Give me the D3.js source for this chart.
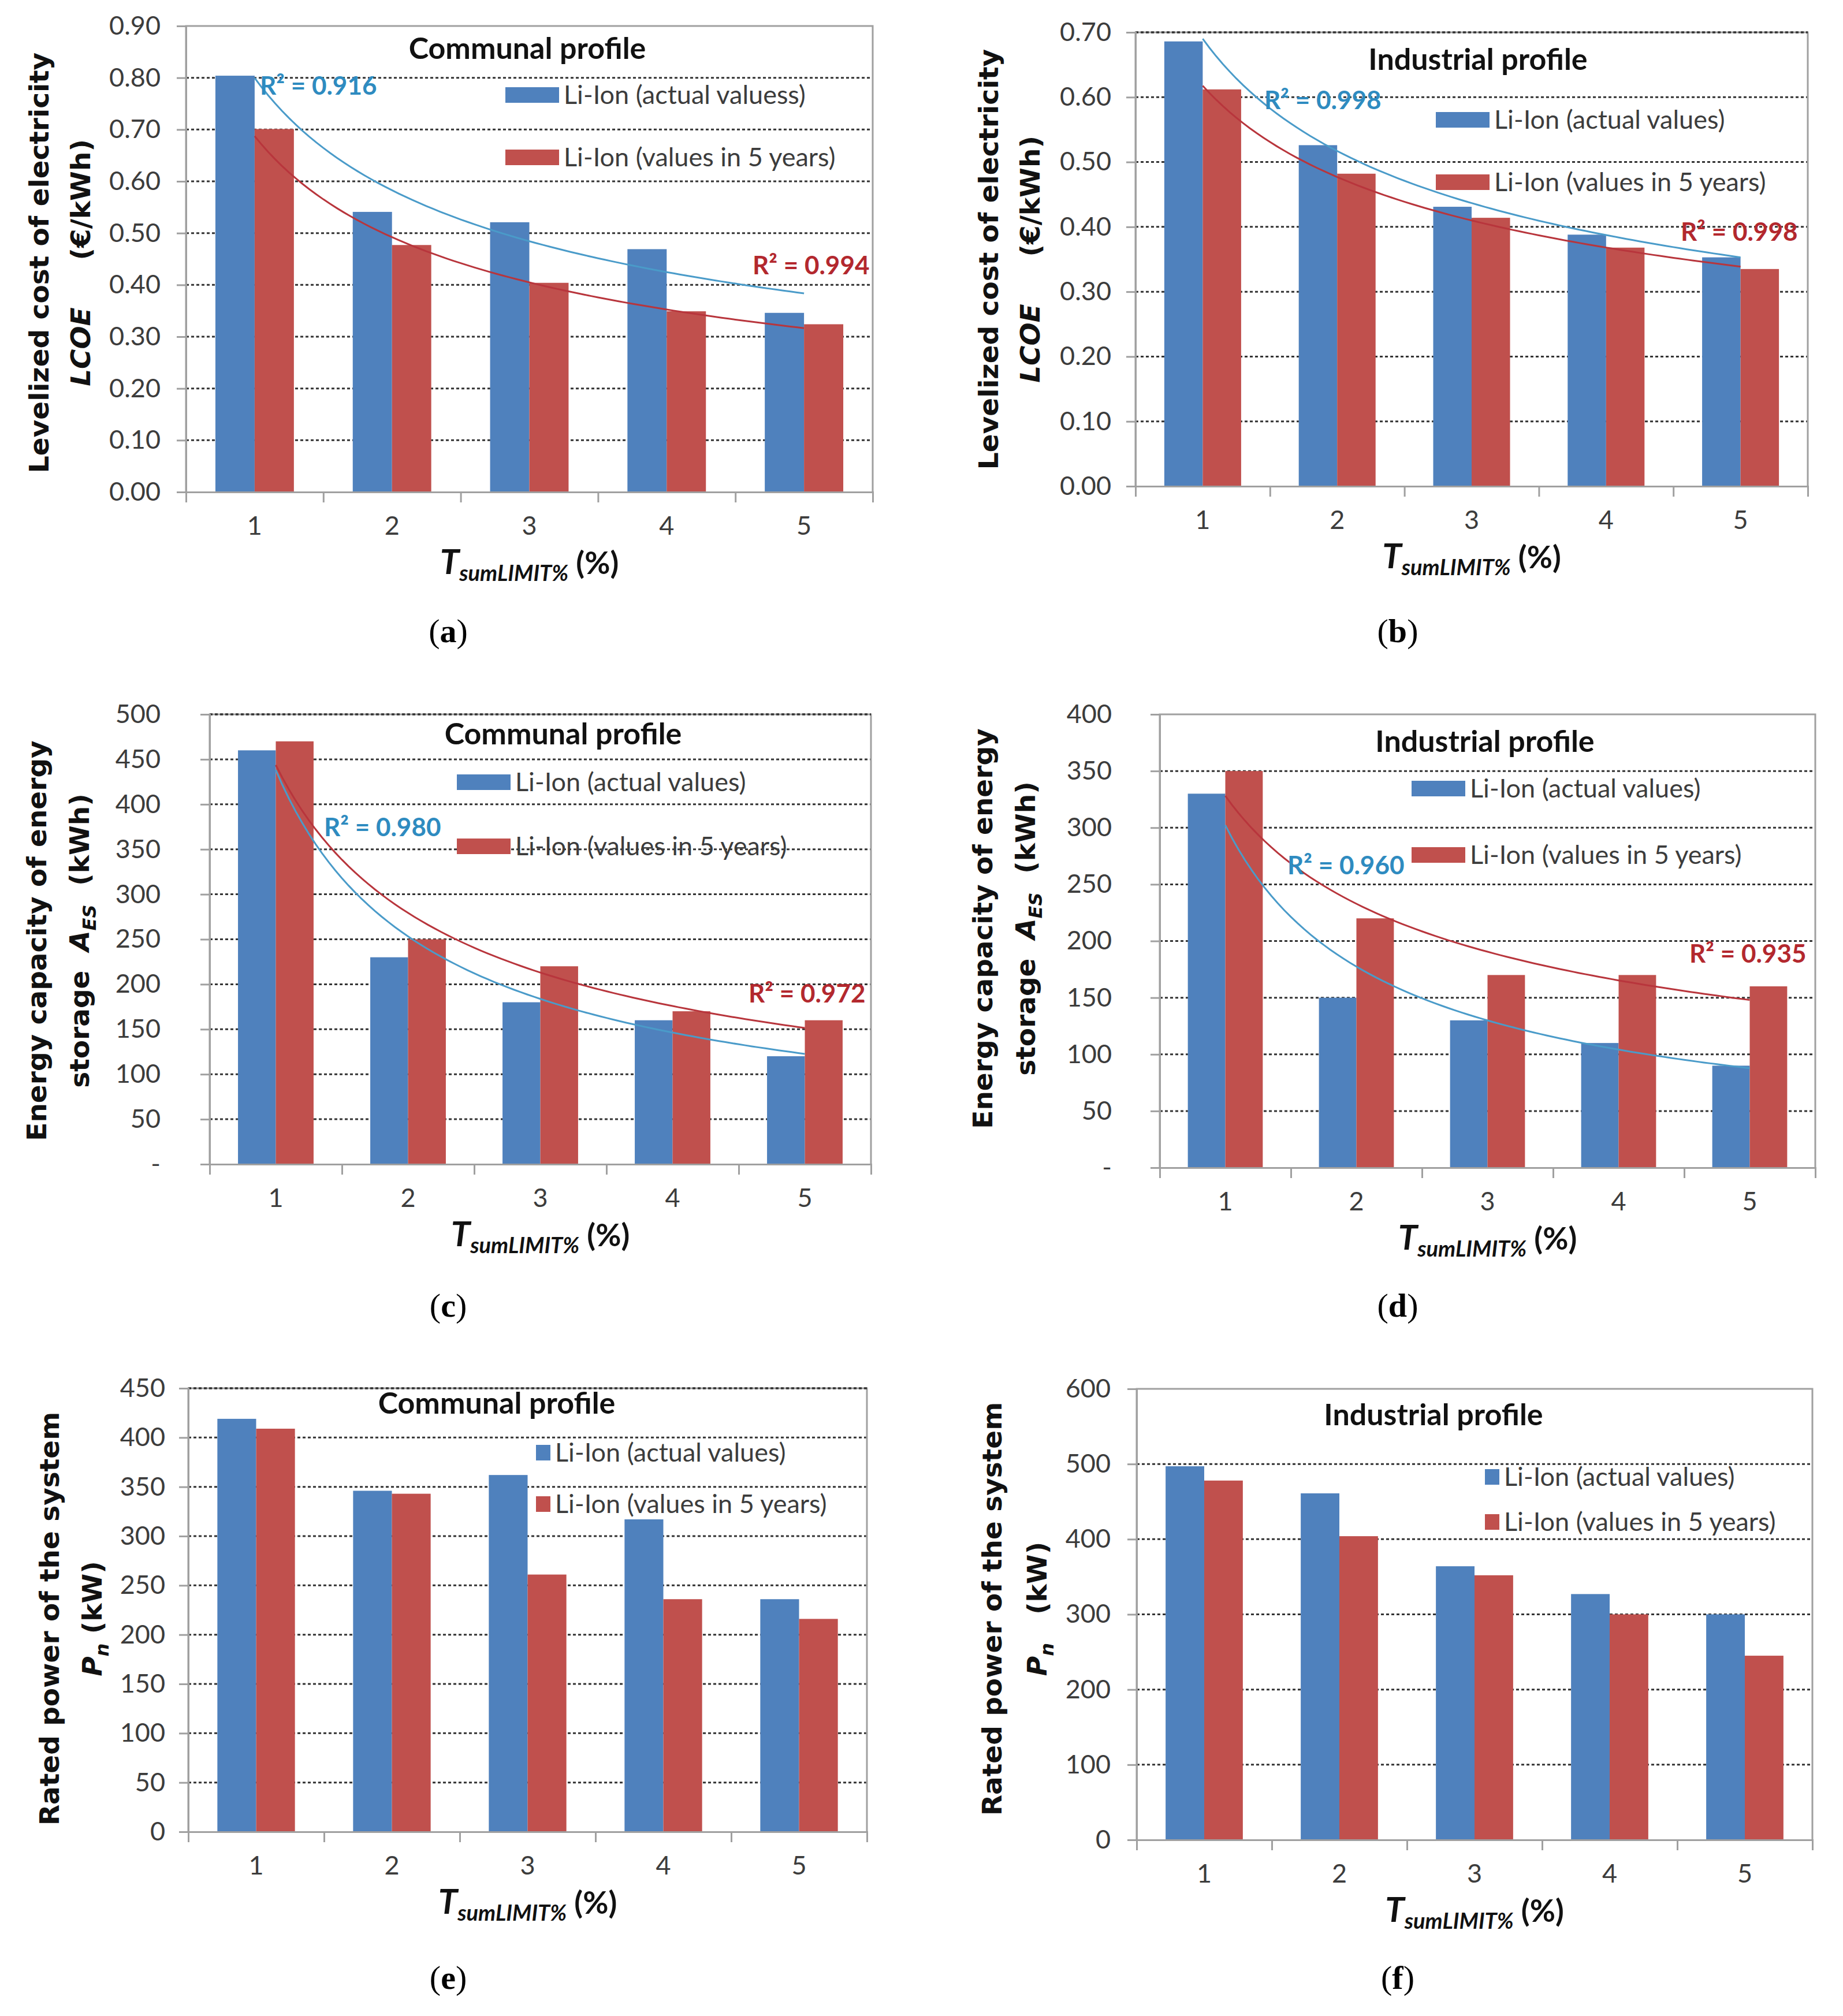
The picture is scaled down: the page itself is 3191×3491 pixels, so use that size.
<!doctype html>
<meta charset='utf-8'>
<title>Li-Ion storage: LCOE, capacity and rated power</title>
<style>
	body { margin:0; background:#fff; }
	svg text { font-family: Lato, 'Open Sans', sans-serif; }
</style>
<body>
<script src="https://cdnjs.cloudflare.com/ajax/libs/d3/7.8.5/d3.min.js"></script>
<script>

	// ---- data ----
	var categories = [1, 2, 3, 4, 5]

	var lcoeCommunalActual   = [0.804, 0.541, 0.521, 0.469, 0.346]
	var lcoeCommunal5y       = [0.701, 0.477, 0.404, 0.349, 0.324]
	var lcoeIndustrialActual = [0.686, 0.526, 0.431, 0.388, 0.353]
	var lcoeIndustrial5y     = [0.612, 0.482, 0.414, 0.368, 0.335]
	var capCommunalActual    = [460, 230, 180, 160, 120]
	var capCommunal5y        = [470, 250, 220, 170, 160]
	var capIndustrialActual  = [330, 150, 130, 110, 90]
	var capIndustrial5y      = [350, 220, 170, 170, 160]
	var powCommunalActual    = [419, 346, 362, 317, 236]
	var powCommunal5y        = [409, 343, 261, 236, 216]
	var powIndustrialActual  = [497, 461, 364, 327, 300]
	var powIndustrial5y      = [478, 404, 352, 300, 245]

	var lcoeCommunalTicks   = [0, 0.1, 0.2, 0.3, 0.4, 0.5, 0.6, 0.7, 0.8, 0.9]
	var lcoeIndustrialTicks = [0, 0.1, 0.2, 0.3, 0.4, 0.5, 0.6, 0.7]
	var capCommunalTicks    = [0, 50, 100, 150, 200, 250, 300, 350, 400, 450, 500]
	var capIndustrialTicks  = [0, 50, 100, 150, 200, 250, 300, 350, 400]
	var powCommunalTicks    = [0, 50, 100, 150, 200, 250, 300, 350, 400, 450]
	var powIndustrialTicks  = [0, 100, 200, 300, 400, 500, 600]

	var legendA    = ['Li-Ion (actual valuess)', 'Li-Ion (values in 5 years)']
	var legendRest = ['Li-Ion (actual values)', 'Li-Ion (values in 5 years)']

	var r2a = ['R\u00b2 = 0.916', 'R\u00b2 = 0.994']
	var r2b = ['R\u00b2 = 0.998', 'R\u00b2 = 0.998']
	var r2c = ['R\u00b2 = 0.980', 'R\u00b2 = 0.972']
	var r2d = ['R\u00b2 = 0.960', 'R\u00b2 = 0.935']

	var COLORS = ['#4F81BD', '#C0504D']
	var TREND  = ['#4A9BC9', '#B8353C']
	var R2COL  = ['#2E8BC0', '#B3282E']

	// ---- layout (pixels) ----
	var panels = [
		{ id:'a', L:322, R:1511, T:45, B:852, ticks:lcoeCommunalTicks, fmt:d3.format('.2f'), lab:44,
		  series:[lcoeCommunalActual, lcoeCommunal5y], legend:legendA, key:'wide',
		  title:'Communal profile', titleX:913, titleY:102,
		  legX:875, legY:[164, 272], r2:r2a, r2pos:[[450,148],[1303,459]], topGrid:false,
		  yt:'lcoe', ytX:[84, 156], ytY:455, sub:'a', subX:776, subY:1112 },
		{ id:'b', L:1966, R:3130, T:56, B:842, ticks:lcoeIndustrialTicks, fmt:d3.format('.2f'), lab:42,
		  series:[lcoeIndustrialActual, lcoeIndustrial5y], legend:legendRest, key:'wide',
		  title:'Industrial profile', titleX:2559, titleY:121,
		  legX:2486, legY:[207, 315], r2:r2b, r2pos:[[2189,173],[2910,401]], topGrid:true,
		  yt:'lcoe', ytX:[1728, 1800], ytY:449, sub:'b', subX:2420, subY:1112 },
		{ id:'c', L:363, R:1508, T:1237, B:2016, ticks:capCommunalTicks, fmt:dash, lab:85,
		  series:[capCommunalActual, capCommunal5y], legend:legendRest, key:'wide',
		  title:'Communal profile', titleX:975, titleY:1289,
		  legX:791, legY:[1354, 1465], r2:r2c, r2pos:[[561,1432],[1296,1720]], topGrid:true,
		  yt:'cap', ytX:[80, 154], ytY:1629, sub:'c', subX:776, subY:2280 },
		{ id:'d', L:2008, R:3143, T:1237, B:2022, ticks:capIndustrialTicks, fmt:dash, lab:83,
		  series:[capIndustrialActual, capIndustrial5y], legend:legendRest, key:'wide',
		  title:'Industrial profile', titleX:2571, titleY:1302,
		  legX:2444, legY:[1365, 1480], r2:r2d, r2pos:[[2229,1498],[2925,1651]], topGrid:false,
		  yt:'cap', ytX:[1718, 1792], ytY:1608, sub:'d', subX:2420, subY:2280 },
		{ id:'e', L:326, R:1501, T:2404, B:3172, ticks:powCommunalTicks, fmt:d3.format('d'), lab:40,
		  series:[powCommunalActual, powCommunal5y], legend:legendRest, key:'square',
		  title:'Communal profile', titleX:860, titleY:2448,
		  legX:928, legY:[2515, 2604], r2:null, topGrid:true,
		  yt:'pow', ytX:[102, 176], ytY:2803, sub:'e', subX:776, subY:3444 },
		{ id:'f', L:1968, R:3138, T:2405, B:3186, ticks:powIndustrialTicks, fmt:d3.format('d'), lab:45,
		  series:[powIndustrialActual, powIndustrial5y], legend:legendRest, key:'square',
		  title:'Industrial profile', titleX:2482, titleY:2468,
		  legX:2571, legY:[2557, 2635], r2:null, topGrid:false,
		  yt:'pow', ytX:[1734, 1812], ytY:2786, sub:'f', subX:2420, subY:3444 }
	]

	function dash(v) { return v === 0 ? '-' : d3.format('d')(v) }

	// power trendline, same as the spreadsheet's: ln y = ln a + b ln x
	function powerFit(vals) {
		var lx = categories.map(Math.log), ly = vals.map(Math.log)
		var mx = d3.mean(lx), my = d3.mean(ly)
		var sxy = d3.sum(lx, function(v, i) { return (v - mx) * (ly[i] - my) })
		var sxx = d3.sum(lx, function(v) { return (v - mx) * (v - mx) })
		var b = sxy / sxx
		var a = Math.exp(my - b * mx)
		return function(x) { return a * Math.pow(x, b) }
	}

	var svg = d3.select('body').append('svg')
		.attr('width', 3191).attr('height', 3491)
		.style('background', '#fff')

	var GRID = '#333', AXIS = '#a0a0a0', TXT = '#3c3c3c'

	function yTitle(g, p) {
		var l1 = g.append('text').attr('transform', 'translate(' + p.ytX[0] + ',' + p.ytY + ') rotate(-90)')
		var l2 = g.append('text').attr('transform', 'translate(' + p.ytX[1] + ',' + p.ytY + ') rotate(-90)')
		;[l1, l2].forEach(function(t) {
			t.attr('text-anchor', 'middle')
				.style('font-family', "'DejaVu Sans', Verdana, sans-serif")
				.style('font-weight', 'bold').style('font-size', '47px').attr('fill', '#111')
				.attr('xml:space', 'preserve')
		})
		if (p.yt == 'lcoe') {
			l1.text('Levelized cost of electricity')
			l2.append('tspan').style('font-style', 'italic').text('LCOE')
			l2.append('tspan').text('     (\u20ac/kWh)')
		} else if (p.yt == 'cap') {
			l1.text('Energy capacity of energy')
			l2.append('tspan').text('storage  ')
			l2.append('tspan').style('font-style', 'italic').text('A')
			l2.append('tspan').style('font-style', 'italic').style('font-size', '32px').attr('dy', 12).text('ES')
			l2.append('tspan').attr('dy', -12).text('  (kWh)')
		} else {
			l1.text('Rated power of the system')
			l2.append('tspan').style('font-style', 'italic').text('P')
			l2.append('tspan').style('font-style', 'italic').style('font-size', '32px').attr('dy', 12).text('n')
			l2.append('tspan').attr('dy', -12).text(p.id == 'f' ? '   (kW)' : ' (kW)')
		}
	}

	panels.forEach(function(p) {
		var g = svg.append('g').attr('class', 'panel-' + p.id)
		var ymax = p.ticks[p.ticks.length - 1]

		var x = d3.scaleBand().domain(categories).range([p.L, p.R]).paddingInner(0).paddingOuter(0)
		var x1 = d3.scaleBand().domain([0, 1]).range([0, x.bandwidth()]).paddingInner(0).paddingOuter(0.75)
		var y = d3.scaleLinear().domain([0, ymax]).range([p.B, p.T])

		// gridlines
		var gridTicks = p.ticks.filter(function(t) { return t > 0 && t < ymax })
		g.append('g').selectAll('line').data(gridTicks).join('line')
			.attr('x1', p.L).attr('x2', p.R)
			.attr('y1', function(d) { return y(d) }).attr('y2', function(d) { return y(d) })
			.attr('stroke', GRID).attr('stroke-width', 3).attr('stroke-dasharray', '5,4')

		// bars
		p.series.forEach(function(vals, si) {
			g.append('g').selectAll('rect').data(vals).join('rect')
				.attr('x', function(d, i) { return x(categories[i]) + x1(si) })
				.attr('width', x1.bandwidth())
				.attr('y', function(d) { return y(d) })
				.attr('height', function(d) { return p.B - y(d) })
				.attr('fill', COLORS[si])
		})

		// trendlines
		if (p.r2) {
			var xc = d3.scaleLinear().domain([1, 5])
				.range([x(1) + x.bandwidth() / 2, x(5) + x.bandwidth() / 2])
			var xs = d3.range(1, 5.0001, 0.05)
			p.series.forEach(function(vals, si) {
				var f = powerFit(vals)
				var line = d3.line().x(function(d) { return xc(d) }).y(function(d) { return y(f(d)) })
				g.append('path').datum(xs).attr('d', line)
					.attr('fill', 'none').attr('stroke', TREND[si]).attr('stroke-width', 3)
			})
		}

		// frame
		g.append('path')
			.attr('d', 'M' + p.L + ',' + p.B + 'V' + p.T + 'H' + p.R + 'V' + p.B)
			.attr('fill', 'none').attr('stroke', AXIS).attr('stroke-width', 3)
		if (p.topGrid) {
			g.append('line').attr('x1', p.L).attr('x2', p.R).attr('y1', p.T).attr('y2', p.T)
				.attr('stroke', GRID).attr('stroke-width', 3.5).attr('stroke-dasharray', '5,4')
		}

		// y axis
		var ya = g.append('g').attr('transform', 'translate(' + p.L + ',0)')
			.call(d3.axisLeft(y).tickValues(p.ticks).tickFormat(p.fmt).tickSize(16).tickPadding(p.lab - 16))
		ya.select('.domain').attr('stroke', AXIS).attr('stroke-width', 3)
		ya.selectAll('.tick line').attr('stroke', AXIS).attr('stroke-width', 3)
		ya.selectAll('.tick text').attr('fill', TXT).style('font-size', '45px').style('font-family', 'Lato')

		// x axis: boundary ticks + centred labels
		var xb = d3.scaleLinear().domain([0, 5]).range([p.L, p.R])
		var xa = g.append('g').attr('transform', 'translate(0,' + p.B + ')')
			.call(d3.axisBottom(xb).ticks(5).tickSize(18).tickFormat(''))
		xa.select('.domain').attr('stroke', AXIS).attr('stroke-width', 3)
		xa.selectAll('.tick line').attr('stroke', AXIS).attr('stroke-width', 3)
		g.append('g').selectAll('text').data(categories).join('text')
			.attr('x', function(d) { return x(d) + x.bandwidth() / 2 })
			.attr('y', p.B + 74)
			.attr('text-anchor', 'middle').attr('fill', TXT).style('font-size', '45px')
			.text(function(d) { return d })

		// x title
		var xt = g.append('text').attr('x', (p.L + p.R) / 2).attr('y', p.B + 142)
			.attr('text-anchor', 'middle').attr('fill', '#111').style('font-weight', 'bold')
			.style('font-size', '54px').attr('xml:space', 'preserve')
		xt.append('tspan').style('font-style', 'italic').style('font-size', '60px').text('T')
		xt.append('tspan').style('font-style', 'italic').style('font-size', '38px').attr('dy', 12).text('sumLIMIT%')
		xt.append('tspan').attr('dy', -12).text(' (%)')

		yTitle(g, p)

		// chart title
		g.append('text').attr('x', p.titleX).attr('y', p.titleY).attr('text-anchor', 'middle')
			.attr('fill', '#111').style('font-weight', 'bold').style('font-size', '52px').text(p.title)

		// legend
		p.legend.forEach(function(name, i) {
			var cy = p.legY[i]
			var kw = p.key == 'wide' ? 93 : 25
			g.append('rect').attr('x', p.legX).attr('y', cy - 13).attr('width', kw).attr('height', 27)
				.attr('fill', COLORS[i])
			g.append('text').attr('x', p.legX + kw + 8).attr('y', cy).attr('dy', '0.36em')
				.attr('fill', TXT).style('font-size', '45px').text(name)
		})

		// R² labels
		if (p.r2) {
			p.r2.forEach(function(t, i) {
				g.append('text').attr('x', p.r2pos[i][0]).attr('y', p.r2pos[i][1]).attr('dy', '0.36em')
					.attr('fill', R2COL[i]).style('font-weight', 'bold').style('font-size', '44px').text(t)
			})
		}

		// sub-figure label
		var st = g.append('text').attr('x', p.subX).attr('y', p.subY).attr('text-anchor', 'middle')
			.style('font-family', "'Liberation Serif', 'DejaVu Serif', serif").style('font-size', '58px').attr('fill', '#000')
		st.append('tspan').text('(')
		st.append('tspan').style('font-weight', 'bold').text(p.sub)
		st.append('tspan').text(')')
	})

</script>
